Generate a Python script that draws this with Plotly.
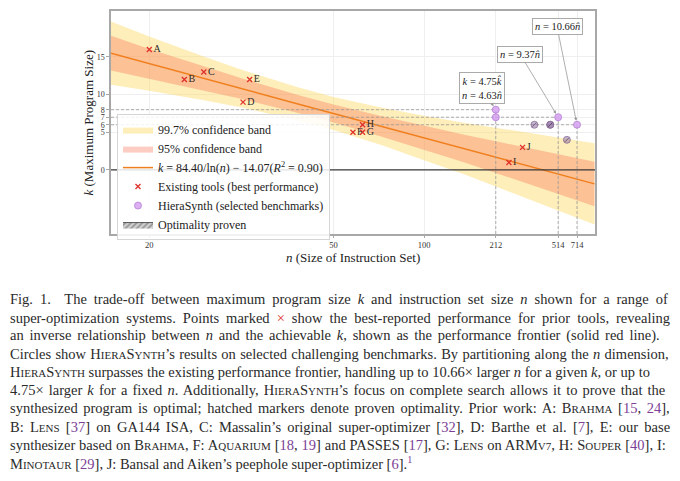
"""
Trade-off between maximum program size k and instruction set size n,
with the existing super-optimizers, HieraSynth results and the fitted frontier.
"""

import numpy as np
import plotly.graph_objects as go

# Existing tools (best performance), marked with a red x
tools_label = ['A', 'B', 'C', 'D', 'E', 'F', 'G', 'H', 'I', 'J']
tools_n = [20, 23, 25, 30, 31, 57, 61, 61, 250, 300]
tools_k = [16, 12, 13, 9, 12, 5, 5, 6, 1, 3]

# HieraSynth (selected benchmarks)
hs_n = [212, 212, 514, 714]
hs_k = [8, 7, 7, 6]
# HieraSynth benchmarks where optimality was proven (hatched)
hs_opt_n = [355, 452, 452, 596]
hs_opt_k = [6, 6, 6, 4]

# points that set the new frontier (dashed guide lines)
frontier_n = [212, 514, 714]
frontier_k = [8, 7, 6]

# fit k = 84.40/ln(n) - 14.07 and confidence bands
band_n = [17.4, 20, 25, 30, 40, 50, 70, 100, 150, 212, 300, 514, 1000]
fit_k = [15.5, 14.1, 12.15, 10.75, 8.8, 7.5, 5.8, 4.25, 2.8, 1.7, 0.75, -0.55, -1.85]
half_95 = [2.3, 1.95, 1.6, 1.35, 1.2, 1.2, 1.35, 1.6, 1.85, 2.1, 2.3, 2.6, 2.95]
half_997 = [4.2, 3.6, 2.9, 2.5, 2.2, 2.2, 2.5, 2.95, 3.45, 3.9, 4.3, 4.85, 5.4]

# annotation boxes
ann_text = ['<i>k</i> = 4.75<i>k̂</i><br><i>n</i> = 4.63<i>n̂</i>',
            '<i>n</i> = 9.37<i>n̂</i>',
            '<i>n</i> = 10.66<i>n̂</i>']
ann_n = [212, 514, 714]
ann_k = [8, 7, 6]

x_ticks = [20, 50, 100, 212, 514, 714]
y_ticks = [0, 5, 6, 7, 8, 10, 15]

FONT = 'Liberation Serif'
n_range = [17.4, 1010]
k_range = [-8.5, 21.1]

# page body has an 8px margin, so the figure is 8px smaller than the window
OFF = 8
L, T, W, H = 103, 1, 484, 225


def px_x(page_x):
    return (page_x - OFF - L) / W


def px_y(page_y):
    return (T + H - (page_y - OFF)) / H


def to_x(n):
    # the x axis is linear in 1/ln(n), drawn reversed so n grows to the right
    return 1.0 / np.log(np.asarray(n, dtype=float))


def sc(word, size):
    # fake small caps: capitals stay, lower case becomes smaller capitals
    out = ''
    for ch in word:
        if ch.isupper():
            out += ch
        else:
            out += '<span style="font-size:%spx">%s</span>' % (size, ch.upper())
    return out


def cite(*nums):
    return '[' + ', '.join('<span style="color:#7b3f95">%d</span>' % n for n in nums) + ']'


x_left, x_right = to_x(n_range[0]), to_x(n_range[1])
bx = list(to_x(band_n))

fig = go.Figure()

# 99.7% band
up = [f + h for f, h in zip(fit_k, half_997)]
lo = [f - h for f, h in zip(fit_k, half_997)]
fig.add_trace(go.Scatter(x=bx + bx[::-1], y=up + lo[::-1], fill='toself',
                         fillcolor='rgba(252,215,90,0.42)', line=dict(width=0),
                         mode='lines', name='99.7% confidence band', hoverinfo='skip'))
# 95% band
up = [f + h for f, h in zip(fit_k, half_95)]
lo = [f - h for f, h in zip(fit_k, half_95)]
fig.add_trace(go.Scatter(x=bx + bx[::-1], y=up + lo[::-1], fill='toself',
                         fillcolor='rgba(248,110,80,0.35)', line=dict(width=0),
                         mode='lines', name='95% confidence band', hoverinfo='skip'))
# fit line
fig.add_trace(go.Scatter(x=bx, y=fit_k, mode='lines', line=dict(color='#f07f1e', width=1.5),
                         name='<i>k</i> = 84.40/ln(<i>n</i>) − 14.07(<i>R</i><sup>2</sup> = 0.90)'))

# k = 0 line
fig.add_trace(go.Scatter(x=[x_left, x_right], y=[0, 0], mode='lines',
                         line=dict(color='#3a3a3a', width=1.2), showlegend=False, hoverinfo='skip'))

# dashed guides to the frontier points
gx, gy = [], []
for n, k in zip(frontier_n, frontier_k):
    gx += [x_left, to_x(n), None, to_x(n), to_x(n), None]
    gy += [k, k, None, k_range[0], k, None]
fig.add_trace(go.Scatter(x=gx, y=gy, mode='lines', line=dict(color='#9a9a9a', width=0.8, dash='3px,2px'),
                         showlegend=False, hoverinfo='skip'))

# existing tools
fig.add_trace(go.Scatter(x=to_x(tools_n), y=tools_k, mode='markers+text', text=tools_label,
                         textposition='middle right', textfont=dict(family=FONT, size=10, color='#2b2b2b'),
                         marker=dict(symbol='x-thin', size=5, line=dict(color='#e0302a', width=1.3)),
                         name='Existing tools (best performance)'))

# HieraSynth
fig.add_trace(go.Scatter(x=to_x(hs_n), y=hs_k, mode='markers',
                         marker=dict(symbol='circle', size=7, color='rgba(214,160,240,0.85)',
                                     line=dict(color='#b47fd6', width=0.8)),
                         name='HieraSynth (selected benchmarks)'))
fig.add_trace(go.Scatter(x=to_x(hs_opt_n), y=hs_opt_k, mode='markers', showlegend=False,
                         marker=dict(symbol='circle', size=7, color='rgba(140,105,160,0.5)',
                                     line=dict(color='#8a7096', width=0.8))))
fig.add_trace(go.Scatter(x=to_x(hs_opt_n), y=hs_opt_k, mode='markers', showlegend=False, hoverinfo='skip',
                         marker=dict(symbol='line-ne', size=4, line=dict(color='#5a4a6a', width=0.8))))

# legend entry only (drawn outside the axis range)
fig.add_trace(go.Scatter(x=[0.5, 0.6, 0.6, 0.5], y=[0, 0, 1, 1], fill='toself', mode='lines',
                         fillcolor='#cfcfcf', fillpattern=dict(shape='/', fgcolor='#444', size=4, solidity=0.35),
                         line=dict(color='#333', width=0.8), name='Optimality proven'))

annotations = []
for txt, n, k, ax, ay in zip(ann_text, ann_n, ann_k, [-14, -38, -20], [-22, -63, -98]):
    annotations.append(dict(x=float(to_x(n)), y=k, xref='x', yref='y', text=txt, showarrow=True,
                            ax=ax, ay=ay, arrowhead=2, arrowsize=0.8, arrowwidth=0.8, arrowcolor='#999',
                            standoff=4, bgcolor='white', bordercolor='#aaa', borderwidth=1, borderpad=2,
                            font=dict(family=FONT, size=10.5, color='#222')))

# axis titles
annotations.append(dict(x=px_x(353), y=px_y(258), xref='paper', yref='paper', showarrow=False,
                        xanchor='center', yanchor='middle',
                        text='<i>n</i> (Size of Instruction Set)', font=dict(family=FONT, size=13, color='#222')))
annotations.append(dict(x=px_x(88), y=px_y(121.5), xref='paper', yref='paper', showarrow=False,
                        xanchor='center', yanchor='middle', textangle=-90,
                        text='<i>k</i> (Maximum Program Size)', font=dict(family=FONT, size=13, color='#222')))

# caption
s = 11
HS = sc('HieraSynth', s)
caption = [
    'Fig. 1.  The trade-off between maximum program size <i>k</i> and instruction set size <i>n</i> shown for a range of',
    'super-optimization systems. Points marked <span style="color:#e0302a">×</span> show the best-reported performance for prior tools, revealing',
    'an inverse relationship between <i>n</i> and the achievable <i>k</i>, shown as the performance frontier (solid red line).',
    'Circles show ' + HS + '’s results on selected challenging benchmarks. By partitioning along the <i>n</i> dimension,',
    HS + ' surpasses the existing performance frontier, handling up to 10.66× larger <i>n</i> for a given <i>k</i>, or up to',
    '4.75× larger <i>k</i> for a fixed <i>n</i>. Additionally, ' + HS + '’s focus on complete search allows it to prove that the',
    'synthesized program is optimal; hatched markers denote proven optimality. Prior work: A: ' + sc('Brahma', s) + ' ' + cite(15, 24) + ',',
    'B: ' + sc('Lens', s) + ' ' + cite(37) + ' on GA144 ISA, C: Massalin’s original super-optimizer ' + cite(32) + ', D: Barthe et al. ' + cite(7) + ', E: our base',
    'synthesizer based on ' + sc('Brahma', s) + ', F: ' + sc('Aquarium', s) + ' ' + cite(18, 19) + ' and PASSES ' + cite(17) + ', G: '
    + sc('Lens', s) + ' on ' + sc('ARMv7', s) + ', H: ' + sc('Souper', s) + ' ' + cite(40) + ', I:',
    sc('Minotaur', s) + ' ' + cite(29) + ', J: Bansal and Aiken’s peephole super-optimizer ' + cite(6) + '.<sup><span style="color:#7b3f95">1</span></sup>',
]
# extra word spacing so the lines come out justified like the paper
word_gap = [3.3, 3.4, 2.2, 0.7, 0, 1.5, 2.0, 2.6, 0.25, 0]
for i, line in enumerate(caption):
    annotations.append(dict(x=px_x(8), y=px_y(300 + i * 18.33), xref='paper', yref='paper', showarrow=False,
                            xanchor='left', yanchor='middle', align='left',
                            text='<span style="word-spacing:%spx">%s</span>' % (word_gap[i], line),
                            font=dict(family=FONT, size=14.5, color='#2a2a2a')))

fig.update_layout(
    width=680 - OFF, height=481 - OFF,
    margin=dict(l=L, r=680 - OFF - L - W, t=T, b=481 - OFF - T - H),
    plot_bgcolor='white', paper_bgcolor='white',
    font=dict(family=FONT, color='#222'),
    showlegend=True,
    legend=dict(x=px_x(117), y=px_y(113), xanchor='left', yanchor='top', bgcolor='rgba(255,255,255,0.85)',
                bordercolor='#d5d5d5', borderwidth=1, font=dict(family=FONT, size=12, color='#222'),
                traceorder='normal'),
    annotations=annotations,
)
fig.update_xaxes(range=[x_left, x_right], tickvals=list(to_x(x_ticks)), ticktext=[str(t) for t in x_ticks],
                 showgrid=True, gridcolor='#efefef', zeroline=False, showline=True, linecolor='#a8a8a8',
                 linewidth=1.5, mirror=True, ticks='outside', ticklen=2, tickcolor='#a8a8a8',
                 tickfont=dict(family=FONT, size=8.5, color='#333'))
fig.update_yaxes(range=k_range, tickvals=y_ticks, ticktext=[str(t) for t in y_ticks],
                 showgrid=True, gridcolor='#efefef', zeroline=False,
                 showline=True, linecolor='#a8a8a8', linewidth=1.5, mirror=True, ticks='outside', ticklen=3,
                 tickcolor='#a8a8a8', tickfont=dict(family=FONT, size=8, color='#333'))

fig.write_html("out.html")
